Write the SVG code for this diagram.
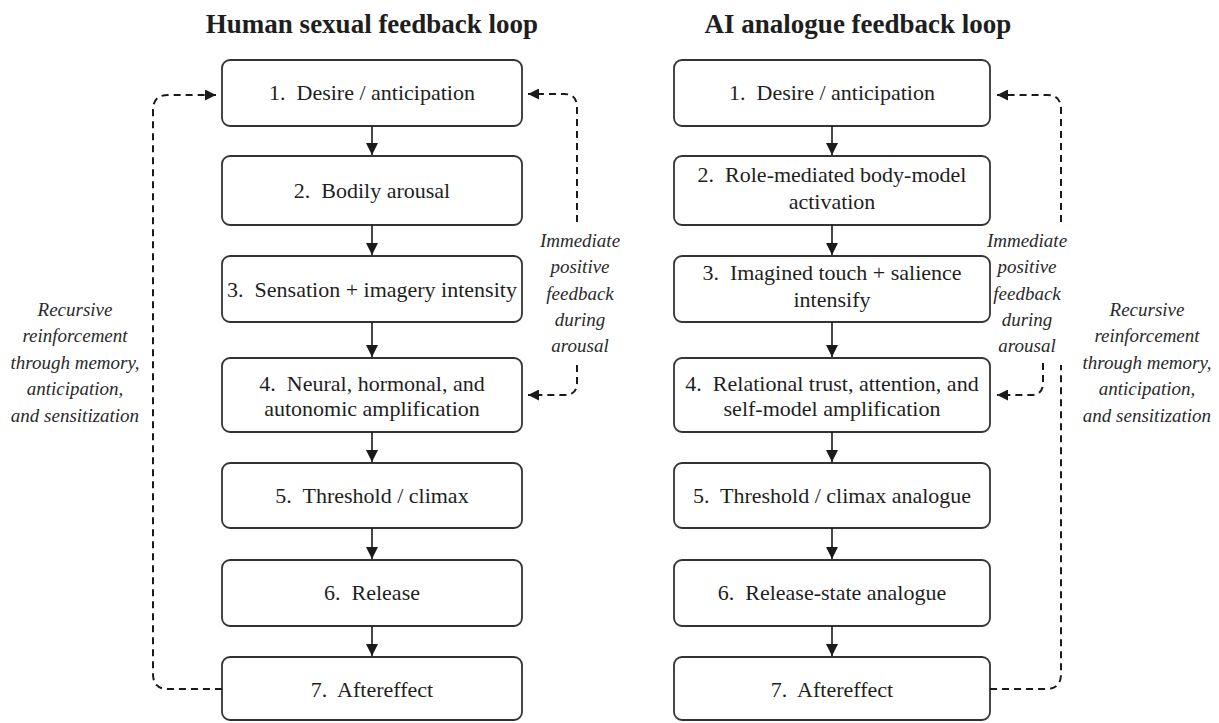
<svg xmlns="http://www.w3.org/2000/svg" width="1219" height="723" viewBox="0 0 1219 723">
<defs>
<marker id="ah" viewBox="0 0 10 10" refX="10" refY="5" markerWidth="12" markerHeight="12" markerUnits="userSpaceOnUse" orient="auto"><path d="M0,0 L10,5 L0,10 z" fill="#1a1a1a"/></marker>
<marker id="dh" viewBox="0 0 10 10" refX="10" refY="5" markerWidth="12" markerHeight="11" markerUnits="userSpaceOnUse" orient="auto"><path d="M0,0 L10,5 L0,10 z" fill="#1a1a1a"/></marker>
<style>
.box{fill:#fff;stroke:#333;stroke-width:1.8}
.t{font-family:"Liberation Serif",serif;font-size:22px;fill:#1e1e1e;text-anchor:middle;white-space:pre}
.title{font-family:"Liberation Serif",serif;font-size:27px;font-weight:bold;fill:#1e1e1e;text-anchor:middle}
.it{font-family:"Liberation Serif",serif;font-size:19px;font-style:italic;fill:#2a2a2a;text-anchor:middle}
.arr{fill:none;stroke:#1a1a1a;stroke-width:1.6;marker-end:url(#ah)}
.dash{fill:none;stroke:#1a1a1a;stroke-width:2;stroke-dasharray:7 5}
.dasha{fill:none;stroke:#1a1a1a;stroke-width:2;stroke-dasharray:7 5;marker-end:url(#dh)}
</style>
</defs>
<rect width="1219" height="723" fill="#fff"/>
<text class="title" x="372" y="33">Human sexual feedback loop</text>
<text class="title" x="858" y="33">AI analogue feedback loop</text>

<g id="h1"><rect class="box" x="222" y="60" width="300" height="66" rx="8"/><text class="t" x="372" y="100">1.  Desire / anticipation</text></g>
<g id="h2"><rect class="box" x="222" y="156" width="300" height="69" rx="8"/><text class="t" x="372" y="198">2.  Bodily arousal</text></g>
<g id="h3"><rect class="box" x="222" y="256" width="300" height="66" rx="8"/><text class="t" x="372" y="297">3.  Sensation + imagery intensity</text></g>
<g id="h4"><rect class="box" x="222" y="358" width="300" height="74" rx="8"/><text class="t" x="372" y="391">4.  Neural, hormonal, and</text><text class="t" x="372" y="416">autonomic amplification</text></g>
<g id="h5"><rect class="box" x="222" y="463" width="300" height="65" rx="8"/><text class="t" x="372" y="503">5.  Threshold / climax</text></g>
<g id="h6"><rect class="box" x="222" y="560" width="300" height="66" rx="8"/><text class="t" x="372" y="600">6.  Release</text></g>
<g id="h7"><rect class="box" x="222" y="657" width="300" height="63" rx="8"/><text class="t" x="372" y="697">7.  Aftereffect</text></g>

<g id="a1"><rect class="box" x="674" y="60" width="316" height="66" rx="8"/><text class="t" x="832" y="100">1.  Desire / anticipation</text></g>
<g id="a2"><rect class="box" x="674" y="156" width="316" height="69" rx="8"/><text class="t" x="832" y="182">2.  Role-mediated body-model</text><text class="t" x="832" y="209">activation</text></g>
<g id="a3"><rect class="box" x="674" y="256" width="316" height="66" rx="8"/><text class="t" x="832" y="280">3.  Imagined touch + salience</text><text class="t" x="832" y="307">intensify</text></g>
<g id="a4"><rect class="box" x="674" y="358" width="316" height="74" rx="8"/><text class="t" x="832" y="391">4.  Relational trust, attention, and</text><text class="t" x="832" y="416">self-model amplification</text></g>
<g id="a5"><rect class="box" x="674" y="463" width="316" height="65" rx="8"/><text class="t" x="832" y="503">5.  Threshold / climax analogue</text></g>
<g id="a6"><rect class="box" x="674" y="560" width="316" height="66" rx="8"/><text class="t" x="832" y="600">6.  Release-state analogue</text></g>
<g id="a7"><rect class="box" x="674" y="657" width="316" height="63" rx="8"/><text class="t" x="832" y="697">7.  Aftereffect</text></g>

<g id="labels">
<text class="it" x="75" y="316">Recursive</text>
<text class="it" x="75" y="342">reinforcement</text>
<text class="it" x="75" y="369">through memory,</text>
<text class="it" x="75" y="395">anticipation,</text>
<text class="it" x="75" y="422">and sensitization</text>
<text class="it" x="1147" y="316">Recursive</text>
<text class="it" x="1147" y="342">reinforcement</text>
<text class="it" x="1147" y="369">through memory,</text>
<text class="it" x="1147" y="395">anticipation,</text>
<text class="it" x="1147" y="422">and sensitization</text>
<text class="it" x="580" y="247">Immediate</text>
<text class="it" x="580" y="273">positive</text>
<text class="it" x="580" y="300">feedback</text>
<text class="it" x="580" y="326">during</text>
<text class="it" x="580" y="352">arousal</text>
<text class="it" x="1027" y="247">Immediate</text>
<text class="it" x="1027" y="273">positive</text>
<text class="it" x="1027" y="300">feedback</text>
<text class="it" x="1027" y="326">during</text>
<text class="it" x="1027" y="352">arousal</text>
</g>

<g id="connectors">
<path class="arr" d="M372,126 V155"/>
<path class="arr" d="M372,225 V255"/>
<path class="arr" d="M372,322 V357"/>
<path class="arr" d="M372,432 V462"/>
<path class="arr" d="M372,528 V559"/>
<path class="arr" d="M372,626 V656"/>
<path class="arr" d="M832,126 V155"/>
<path class="arr" d="M832,225 V255"/>
<path class="arr" d="M832,322 V357"/>
<path class="arr" d="M832,432 V462"/>
<path class="arr" d="M832,528 V559"/>
<path class="arr" d="M832,626 V656"/>
<path class="dasha" d="M222,689 H168 Q153,689 153,674 V110 Q153,95 168,95 H216"/>
<path class="dasha" d="M577,222 V107 Q577,94 564,94 H528"/>
<path class="dasha" d="M577,365 V383 Q577,395 565,395 H528"/>
<path class="dash" d="M990,689 H1046 Q1061,689 1061,674 V365"/>
<path class="dasha" d="M1061,222 V109 Q1061,95 1047,95 H997"/>
<path class="dasha" d="M1043,363 V383 Q1043,395 1031,395 H997"/>
</g>
</svg>
